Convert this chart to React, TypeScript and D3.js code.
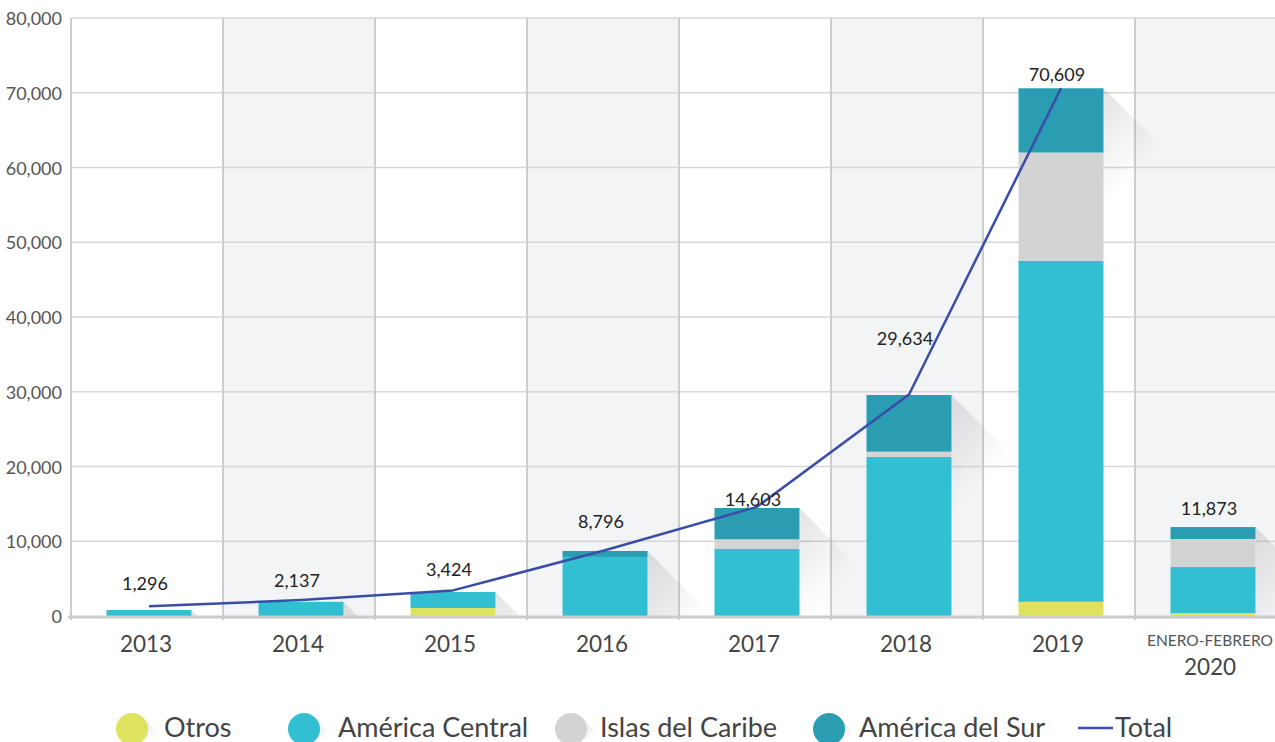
import React from "react";
import * as d3 from "d3";

const categories = ["2013", "2014", "2015", "2016", "2017", "2018", "2019", "2020"];
const otros = [0, 0, 1070, 0, 0, 0, 1900, 400];
const americaCentral = [800, 1900, 2140, 7900, 8960, 21270, 45600, 6150];
const islasCaribe = [0, 0, 0, 0, 1300, 710, 14500, 3750];
const americaSur = [0, 0, 0, 800, 4190, 7585, 8600, 1600];
const totals = [1296, 2137, 3424, 8796, 14603, 29634, 70609, 11873];
const lineYears = ["2013", "2014", "2015", "2016", "2017", "2018", "2019"];
const yTicks = [0, 10000, 20000, 30000, 40000, 50000, 60000, 70000, 80000];
const subLabel = "ENERO-FEBRERO";

const seriesNames = ["Otros", "América Central", "Islas del Caribe", "América del Sur"];
const colors = ["#dde35f", "#33bfd2", "#d3d3d3", "#2b9db3"];
const lineColor = "#3a4ea8";

// layout: label lift above bar top (manual annotation placement)
const labelLift = [20, 15, 16, 23, 2, 50, 7, 12];

const W = 1275;
const H = 742;
const FONT = "Lato, 'Noto Sans', sans-serif";

export default function App() {
  const y = d3.scaleLinear().domain([0, 80000]).range([616, 18]);
  const x = d3.scaleBand<string>().domain(categories).range([71, 71 + 152 * 8]).padding(0);
  const bw = 85;
  const cx = (c: string) => (x(c) as number) + x.bandwidth() / 2 + 2;

  const table = categories.map((c, i) => ({
    cat: c,
    "Otros": otros[i],
    "América Central": americaCentral[i],
    "Islas del Caribe": islasCaribe[i],
    "América del Sur": americaSur[i],
  }));
  const stacked = d3.stack<any>().keys(seriesNames)(table);

  const line = d3
    .line<string>()
    .x((c) => cx(c))
    .y((c) => y(totals[categories.indexOf(c)]));

  const legY = 729;
  const legR = 16;
  const legText = 737;
  const legendItems = [
    { name: seriesNames[0], cx: 132, tx: 164 },
    { name: seriesNames[1], cx: 304, tx: 338 },
    { name: seriesNames[2], cx: 571, tx: 600 },
    { name: seriesNames[3], cx: 829, tx: 859 },
  ];

  return (
    <div style={{ position: "absolute", left: 0, top: 0 }}>
      <svg width={W} height={H} style={{ display: "block", fontFamily: FONT }}>
        <defs>
          {categories.map((c, i) => {
            const top = y(stacked[3][i][1]);
            const x2 = cx(c) + bw / 2;
            const L = 60;
            return (
              <linearGradient
                key={c}
                id={`sh${i}`}
                gradientUnits="userSpaceOnUse"
                x1={x2}
                y1={top}
                x2={x2 + L}
                y2={top + L}
              >
                <stop offset="0" stopColor="#000" stopOpacity={0.11} />
                <stop offset="1" stopColor="#000" stopOpacity={0} />
              </linearGradient>
            );
          })}
          {legendItems.map((d, i) => (
            <linearGradient
              key={d.name}
              id={`lsh${i}`}
              gradientUnits="userSpaceOnUse"
              x1={d.cx + 11}
              y1={legY - 11}
              x2={d.cx + 26}
              y2={legY + 4}
            >
              <stop offset="0" stopColor="#000" stopOpacity={0.12} />
              <stop offset="1" stopColor="#000" stopOpacity={0} />
            </linearGradient>
          ))}
        </defs>
        <rect width={W} height={H} fill="#fff" />
        {/* column backgrounds */}
        {categories.map((c, i) => (
          <rect
            key={c}
            x={x(c)}
            y={y(80000)}
            width={x.bandwidth()}
            height={y(0) - y(80000) + 3}
            fill={i % 2 === 1 ? "#f3f4f6" : "#ffffff"}
          />
        ))}
        {/* horizontal grid */}
        {yTicks.slice(1).map((t) => (
          <line key={t} x1={71} x2={W} y1={y(t)} y2={y(t)} stroke="#d6d6d6" strokeWidth={1.5} />
        ))}
        {/* vertical grid */}
        {categories.map((c) => (
          <line
            key={c}
            x1={x(c)}
            x2={x(c)}
            y1={y(80000)}
            y2={y(0) + 4}
            stroke="#cdcdcd"
            strokeWidth={2}
          />
        ))}
        {/* shadows */}
        {categories.map((c, i) => {
          const top = y(stacked[3][i][1]);
          const bottom = y(0);
          const x2 = cx(c) + bw / 2;
          const L = Math.min(60, bottom - top);
          const pts = [
            [x2, top],
            [x2 + L, top + L],
            [x2 + L, bottom],
            [x2, bottom],
          ];
          return <polygon key={c} points={pts.map((p) => p.join(",")).join(" ")} fill={`url(#sh${i})`} />;
        })}
        {/* bars */}
        {stacked.map((s, si) => (
          <g key={s.key} fill={colors[si]}>
            {s.map((d, i) =>
              d[1] - d[0] > 0 ? (
                <rect
                  key={i}
                  x={cx(categories[i]) - bw / 2}
                  y={y(d[1])}
                  width={bw}
                  height={y(d[0]) - y(d[1])}
                />
              ) : null
            )}
          </g>
        ))}
        {/* baseline */}
        <line x1={68} x2={W} y1={y(0) + 1} y2={y(0) + 1} stroke="#cccccc" strokeWidth={3} />
        {/* total line */}
        <path d={line(lineYears) || ""} fill="none" stroke={lineColor} strokeWidth={2.5} strokeLinejoin="round" />
        {/* value labels */}
        {categories.map((c, i) => (
          <text
            key={c}
            x={cx(c) - 4}
            y={y(stacked[3][i][1]) - labelLift[i]}
            textAnchor="middle"
            fontSize={18}
            fill="#222"
          >
            {d3.format(",")(totals[i])}
          </text>
        ))}
        {/* y axis labels */}
        {yTicks.map((t) => (
          <text key={t} x={62} y={y(t) + 7} textAnchor="end" fontSize={18} fill="#555">
            {d3.format(",")(t)}
          </text>
        ))}
        {/* x axis labels */}
        {categories.map((c, i) =>
          i === categories.length - 1 ? (
            <g key={c}>
              <text x={cx(c) - 3} y={646} textAnchor="middle" fontSize={15.5} fill="#555">
                {subLabel}
              </text>
              <text x={cx(c) - 3} y={675} textAnchor="middle" fontSize={22.5} fill="#444">
                {c}
              </text>
            </g>
          ) : (
            <text key={c} x={cx(c) - 3} y={652} textAnchor="middle" fontSize={22.5} fill="#444">
              {c}
            </text>
          )
        )}
        {/* legend */}
        {legendItems.map((d, i) => (
          <g key={d.name}>
            <polygon
              points={`${d.cx + 11},${legY - 11} ${d.cx + 28},${legY + 6} ${d.cx + 11},${legY + 11}`}
              fill={`url(#lsh${i})`}
            />
            <circle cx={d.cx} cy={legY} r={legR} fill={colors[i]} />
            <text x={d.tx} y={legText} fontSize={27} fill="#444">
              {d.name}
            </text>
          </g>
        ))}
        <line x1={1078} x2={1113} y1={728} y2={728} stroke={lineColor} strokeWidth={2.5} />
        <text x={1115} y={legText} fontSize={27} fill="#444">
          Total
        </text>
      </svg>
    </div>
  );
}
